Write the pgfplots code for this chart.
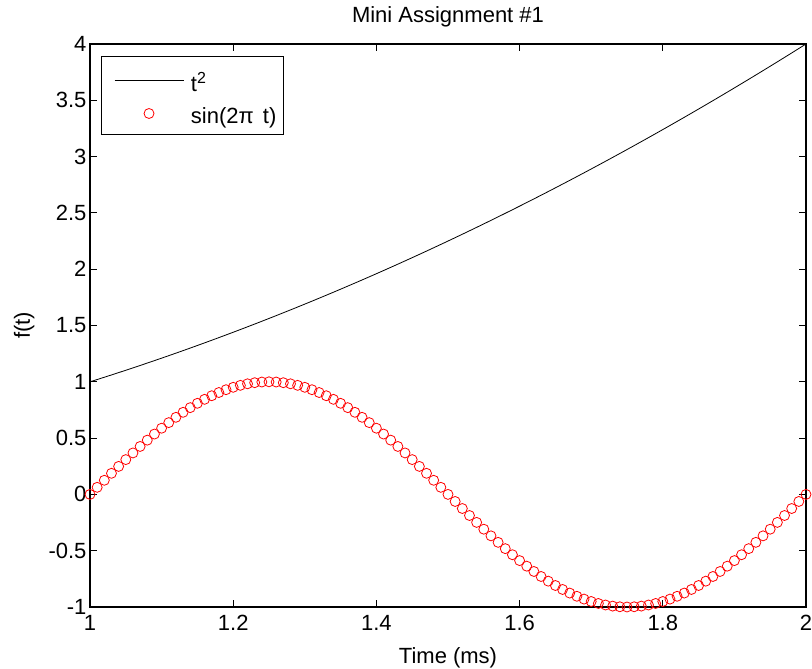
\documentclass[border=0pt]{standalone}
\usepackage{pgfplots}
\usepackage{pgfplotstable}
\usepackage{fontspec}
\setmainfont{Liberation Sans}
\pgfplotsset{compat=1.18}

% legend samples: a long line, and one marker in its middle, both raised above the text baseline
\pgfplotsset{
  linelegend/.style={legend image code/.code={%
    \path[draw=none, fill=none] (0pt,0pt) rectangle (75pt,1pt);
    \draw[##1] (6pt,11pt) -- (75pt,11pt);}},
  marklegend/.style={legend image code/.code={%
    \path[draw=none, fill=none] (0pt,0pt) rectangle (75pt,1pt);
    \draw[mark repeat=2,mark phase=2,##1] plot coordinates {(6pt,10pt) (40.5pt,10pt) (75pt,10pt)};}},
}

% t, t^2 and sin(2 pi t) sampled at t = 1:0.01:2
\pgfplotstableread{
t     sq      s
1.00  1.0000  0
1.01  1.0201  0.06279
1.02  1.0404  0.12533
1.03  1.0609  0.18738
1.04  1.0816  0.24869
1.05  1.1025  0.30902
1.06  1.1236  0.36812
1.07  1.1449  0.42578
1.08  1.1664  0.48175
1.09  1.1881  0.53583
1.10  1.2100  0.58779
1.11  1.2321  0.63742
1.12  1.2544  0.68455
1.13  1.2769  0.72897
1.14  1.2996  0.77051
1.15  1.3225  0.80902
1.16  1.3456  0.84433
1.17  1.3689  0.87631
1.18  1.3924  0.90483
1.19  1.4161  0.92978
1.20  1.4400  0.95106
1.21  1.4641  0.96858
1.22  1.4884  0.98229
1.23  1.5129  0.99211
1.24  1.5376  0.99803
1.25  1.5625  1.00000
1.26  1.5876  0.99803
1.27  1.6129  0.99211
1.28  1.6384  0.98229
1.29  1.6641  0.96858
1.30  1.6900  0.95106
1.31  1.7161  0.92978
1.32  1.7424  0.90483
1.33  1.7689  0.87631
1.34  1.7956  0.84433
1.35  1.8225  0.80902
1.36  1.8496  0.77051
1.37  1.8769  0.72897
1.38  1.9044  0.68455
1.39  1.9321  0.63742
1.40  1.9600  0.58779
1.41  1.9881  0.53583
1.42  2.0164  0.48175
1.43  2.0449  0.42578
1.44  2.0736  0.36812
1.45  2.1025  0.30902
1.46  2.1316  0.24869
1.47  2.1609  0.18738
1.48  2.1904  0.12533
1.49  2.2201  0.06279
1.50  2.2500  0
1.51  2.2801  -0.06279
1.52  2.3104  -0.12533
1.53  2.3409  -0.18738
1.54  2.3716  -0.24869
1.55  2.4025  -0.30902
1.56  2.4336  -0.36812
1.57  2.4649  -0.42578
1.58  2.4964  -0.48175
1.59  2.5281  -0.53583
1.60  2.5600  -0.58779
1.61  2.5921  -0.63742
1.62  2.6244  -0.68455
1.63  2.6569  -0.72897
1.64  2.6896  -0.77051
1.65  2.7225  -0.80902
1.66  2.7556  -0.84433
1.67  2.7889  -0.87631
1.68  2.8224  -0.90483
1.69  2.8561  -0.92978
1.70  2.8900  -0.95106
1.71  2.9241  -0.96858
1.72  2.9584  -0.98229
1.73  2.9929  -0.99211
1.74  3.0276  -0.99803
1.75  3.0625  -1.00000
1.76  3.0976  -0.99803
1.77  3.1329  -0.99211
1.78  3.1684  -0.98229
1.79  3.2041  -0.96858
1.80  3.2400  -0.95106
1.81  3.2761  -0.92978
1.82  3.3124  -0.90483
1.83  3.3489  -0.87631
1.84  3.3856  -0.84433
1.85  3.4225  -0.80902
1.86  3.4596  -0.77051
1.87  3.4969  -0.72897
1.88  3.5344  -0.68455
1.89  3.5721  -0.63742
1.90  3.6100  -0.58779
1.91  3.6481  -0.53583
1.92  3.6864  -0.48175
1.93  3.7249  -0.42578
1.94  3.7636  -0.36812
1.95  3.8025  -0.30902
1.96  3.8416  -0.24869
1.97  3.8809  -0.18738
1.98  3.9204  -0.12533
1.99  3.9601  -0.06279
2.00  4.0000  0
}\datatable

\begin{document}
\begin{tikzpicture}
\useasboundingbox (-90pt,-62pt) rectangle (722pt,607pt);
\begin{axis}[
  at={(0pt,0pt)}, anchor=south west,
  scale only axis,
  width=716pt, height=563pt,
  xmin=1, xmax=2, ymin=-1, ymax=4,
  xtick={1,1.2,1.4,1.6,1.8,2},
  ytick={-1,-0.5,0,0.5,1,1.5,2,2.5,3,3.5,4},
  tick align=inside,
  major tick length=7pt,
  minor tick num=0,
  axis line style={line width=1.2pt},
  every tick/.style={black, line width=1pt},
  clip=false,
  font=\fontsize{22}{26}\selectfont,
  tick label style={font=\fontsize{22}{26}\selectfont},
  xticklabel style={yshift=-5pt},
  /pgf/number format/assume math mode=true,
  title={Mini Assignment \#1},
  title style={at={(axis description cs:0.5,1.0284)}, anchor=base, inner sep=0pt},
  xlabel={Time (ms)},
  xlabel style={at={(axis description cs:0.5,-0.0995)}, anchor=base, inner sep=0pt},
  ylabel={f(t)},
  ylabel style={at={(axis description cs:-0.0838,0.5)}, anchor=base, inner sep=0pt},
  legend cell align=left,
  legend style={
    at={(axis description cs:0.0154,0.9787)}, anchor=north west,
    draw=black, line width=1pt, fill=white,
    font=\fontsize{22}{26}\selectfont,
    inner xsep=7pt, inner ysep=9pt,
    column sep=7pt, row sep=4pt,
    cells={anchor=base west},
    nodes={inner sep=0pt, text height=26pt, text depth=2pt},
  },
]
\addplot[black, line width=0.8pt, linelegend]
  table[x=t, y=sq] {\datatable};
\addlegendentry{t\raisebox{8pt}{\fontsize{16}{16}\selectfont 2}}
\addplot[red, only marks, mark=o, mark size=5pt, mark options={line width=0.8pt}, marklegend]
  table[x=t, y=s] {\datatable};
\addlegendentry{sin(2π\hspace{3pt} t)}
\end{axis}
\end{tikzpicture}
\end{document}
